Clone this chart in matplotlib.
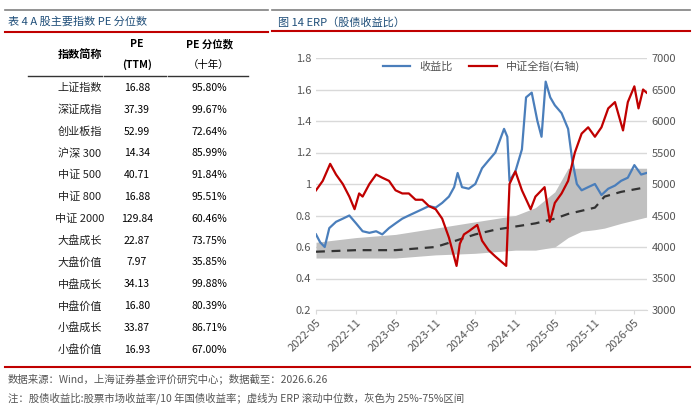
import matplotlib
matplotlib.use('Agg')
import matplotlib.pyplot as plt
import matplotlib.dates as mdates
import pandas as pd

plt.rcParams['font.family'] = ['Noto Sans CJK SC', 'DejaVu Sans']

# table data
names = ['上证指数', '深证成指', '创业板指', '沪深 300', '中证 500', '中证 800', '中证 2000',
         '大盘成长', '大盘价值', '中盘成长', '中盘价值', '小盘成长', '小盘价值']
pe = ['16.88', '37.39', '52.99', '14.34', '40.71', '16.88', '129.84',
      '22.87', '7.97', '34.13', '16.80', '33.87', '16.93']
pct = ['95.80%', '99.67%', '72.64%', '85.99%', '91.84%', '95.51%', '60.46%',
       '73.75%', '35.85%', '99.88%', '80.39%', '86.71%', '67.00%']

# ERP (left axis)
erp_dates = ['2022-05-01', '2022-05-20', '2022-06-10', '2022-07-01', '2022-08-01', '2022-09-01',
             '2022-10-01', '2022-11-01', '2022-12-01', '2023-01-01', '2023-02-01', '2023-03-01',
             '2023-04-01', '2023-05-01', '2023-06-01', '2023-07-01', '2023-08-01', '2023-09-01',
             '2023-10-01', '2023-11-01', '2023-12-01', '2024-01-01', '2024-01-25', '2024-02-10',
             '2024-03-01', '2024-04-01', '2024-05-01', '2024-06-01', '2024-07-01', '2024-08-01',
             '2024-09-10', '2024-09-25', '2024-10-05', '2024-11-01', '2024-12-01', '2024-12-20',
             '2025-01-15', '2025-02-10', '2025-03-01', '2025-03-20', '2025-04-10', '2025-05-01',
             '2025-06-01', '2025-07-01', '2025-07-20', '2025-08-10', '2025-09-01', '2025-10-01',
             '2025-11-01', '2025-12-01', '2026-01-01', '2026-02-01', '2026-03-01', '2026-04-01',
             '2026-05-01', '2026-06-01', '2026-06-26']
erp = [0.68, 0.63, 0.60, 0.72, 0.76, 0.78, 0.80, 0.75, 0.70, 0.69, 0.70, 0.68,
       0.72, 0.75, 0.78, 0.80, 0.82, 0.84, 0.86, 0.85, 0.88, 0.92, 0.98, 1.07,
       0.98, 0.97, 1.00, 1.10, 1.15, 1.20, 1.35, 1.30, 1.02, 1.08, 1.22, 1.55,
       1.58, 1.40, 1.30, 1.65, 1.55, 1.50, 1.45, 1.35, 1.15, 1.00, 0.96, 0.98,
       1.00, 0.93, 0.97, 0.99, 1.02, 1.04, 1.12, 1.06, 1.07]

# CSI All Share (right axis)
idx_dates = ['2022-05-01', '2022-06-01', '2022-07-05', '2022-08-01', '2022-09-01', '2022-10-01',
             '2022-10-25', '2022-11-15', '2022-12-01', '2023-01-01', '2023-02-01', '2023-03-01',
             '2023-04-01', '2023-05-01', '2023-06-01', '2023-07-01', '2023-08-01', '2023-09-01',
             '2023-10-01', '2023-11-01', '2023-12-01', '2024-01-01', '2024-02-05', '2024-02-20',
             '2024-03-10', '2024-04-01', '2024-05-10', '2024-06-01', '2024-07-01', '2024-08-01',
             '2024-09-20', '2024-10-05', '2024-11-01', '2024-12-01', '2025-01-10', '2025-02-01',
             '2025-03-15', '2025-04-08', '2025-05-01', '2025-06-01', '2025-07-01', '2025-08-01',
             '2025-09-01', '2025-10-01', '2025-11-01', '2025-12-01', '2026-01-01', '2026-02-01',
             '2026-03-10', '2026-04-01', '2026-05-01', '2026-05-20', '2026-06-10', '2026-06-26']
idx = [4900, 5050, 5320, 5150, 5000, 4800, 4600, 4850, 4800, 5000, 5150, 5100,
       5050, 4900, 4850, 4850, 4750, 4750, 4650, 4600, 4450, 4150, 3700, 4050,
       4200, 4250, 4350, 4100, 3950, 3850, 3700, 5000, 5200, 4900, 4600, 4800,
       4950, 4400, 4700, 4850, 5050, 5500, 5800, 5900, 5750, 5900, 6200, 6300,
       5850, 6300, 6550, 6200, 6500, 6450]

# rolling median and 25%-75% band
band_dates = ['2022-05-01', '2022-11-01', '2023-05-01', '2023-08-01', '2023-11-01', '2024-02-01',
              '2024-05-01', '2024-08-01', '2024-11-01', '2025-02-01', '2025-05-01', '2025-07-01',
              '2025-09-01', '2025-11-01', '2025-12-15', '2026-03-01', '2026-06-26']
med = [0.57, 0.58, 0.58, 0.59, 0.60, 0.64, 0.68, 0.71, 0.73, 0.75, 0.78, 0.81,
       0.83, 0.85, 0.92, 0.95, 0.98]
lo = [0.53, 0.53, 0.53, 0.54, 0.55, 0.555, 0.56, 0.57, 0.58, 0.58, 0.60, 0.66,
      0.70, 0.71, 0.72, 0.75, 0.79]
hi = [0.63, 0.66, 0.68, 0.70, 0.72, 0.74, 0.76, 0.78, 0.80, 0.85, 0.95, 1.10,
      1.10, 1.10, 1.10, 1.10, 1.10]

fig = plt.figure(figsize=(7, 4.09), dpi=100)
RED, BLUE, GRAYT = '#c00000', '#4a7ebb', '#555555'
TITLE_C = '#1f4e79'

def line(x0, x1, y, color, lw):
    fig.add_artist(plt.Line2D([x0 / 700, x1 / 700], [1 - y / 409] * 2, color=color, lw=lw))

def txt(x, y, s, **kw):
    fig.text(x / 700, 1 - y / 409, s, **kw)

# top rules and titles
line(5, 268, 10, '#808080', 1.2)
line(5, 268, 32, RED, 1.5)
line(272, 690, 10, '#808080', 1.2)
line(272, 690, 31, RED, 1.5)
txt(8, 22, '表 4 A 股主要指数 PE 分位数', fontsize=8, color=TITLE_C, va='center')
txt(278, 22, '图 14 ERP（股债收益比）', fontsize=8, color=TITLE_C, va='center')

# table
cx = [80, 137, 209]
txt(cx[0], 54, '指数简称', fontsize=8, fontweight='bold', ha='center', va='center')
txt(cx[1], 44, 'PE', fontsize=7.5, fontweight='bold', ha='center', va='center')
txt(cx[1], 65, '(TTM)', fontsize=7.5, fontweight='bold', ha='center', va='center')
txt(cx[2], 44, 'PE 分位数', fontsize=7.5, fontweight='bold', ha='center', va='center')
txt(cx[2], 65, '（十年）', fontsize=7.5, ha='center', va='center')
for a, b in [(28, 102), (104, 166), (168, 248)]:
    line(a, b, 76, '#333333', 1.0)
for i in range(len(names)):
    y = 88 + i * 21.8
    txt(cx[0], y, names[i], fontsize=8, ha='center', va='center', color='#222222')
    txt(cx[1], y, pe[i], fontsize=7.5, ha='center', va='center')
    txt(cx[2], y, pct[i], fontsize=7.5, ha='center', va='center')

# chart
ax = fig.add_axes([316 / 700, 1 - 310 / 409, 331 / 700, 252 / 409])
ax2 = ax.twinx()
bd = pd.to_datetime(band_dates)
ax.fill_between(bd, lo, hi, color='#c0c0c0', lw=0, zorder=1)
ax.plot(bd, med, color='#333333', lw=1.6, ls=(0, (4, 3)), zorder=2)
ax.plot(pd.to_datetime(erp_dates), erp, color=BLUE, lw=1.6, zorder=4, label='收益比')
ax2.plot(pd.to_datetime(idx_dates), idx, color=RED, lw=1.6, label='中证全指(右轴)')
ax.set_ylim(0.2, 1.8)
ax.set_yticks([0.2, 0.4, 0.6, 0.8, 1.0, 1.2, 1.4, 1.6, 1.8])
ax.set_yticklabels(['0.2', '0.4', '0.6', '0.8', '1', '1.2', '1.4', '1.6', '1.8'])
ax2.set_ylim(3000, 7000)
ax2.set_yticks(range(3000, 7001, 500))
ax.set_xlim(pd.Timestamp('2022-05-01'), pd.Timestamp('2026-06-28'))
ticks = pd.date_range('2022-05-01', '2026-05-01', freq='6MS')
ax.set_xticks(ticks)
ax.set_xticklabels([t.strftime('%Y-%m') for t in ticks], rotation=45, ha='right',
                   rotation_mode='anchor')
ax.grid(axis='y', color='#d9d9d9', lw=1)
ax.set_axisbelow(True)
for a in (ax, ax2):
    for s in a.spines.values():
        s.set_visible(False)
    a.tick_params(length=0, labelsize=8, colors=GRAYT)
ax.spines['bottom'].set_visible(True)
ax.spines['bottom'].set_color('#d9d9d9')
ax.tick_params(axis='x', length=3, color='#d9d9d9', pad=2)
h1, l1 = ax.get_legend_handles_labels()
h2, l2 = ax2.get_legend_handles_labels()
leg = ax.legend(h1 + h2, l1 + l2, loc='upper center', bbox_to_anchor=(0.5, 1.03), ncol=2,
                frameon=False, fontsize=8, handlelength=2.5, columnspacing=1.5)
for t in leg.get_texts():
    t.set_color(GRAYT)

# bottom notes
line(5, 690, 367, RED, 1.5)
txt(8, 379, '数据来源：Wind，上海证券基金评价研究中心；数据截至：2026.6.26', fontsize=7.5,
    color=GRAYT, va='center')
txt(8, 398, '注：股债收益比:股票市场收益率/10 年国债收益率；虚线为 ERP 滚动中位数，灰色为 25%-75%区间',
    fontsize=7.5, color=GRAYT, va='center')

fig.savefig('out.png', dpi=100, facecolor='white')
